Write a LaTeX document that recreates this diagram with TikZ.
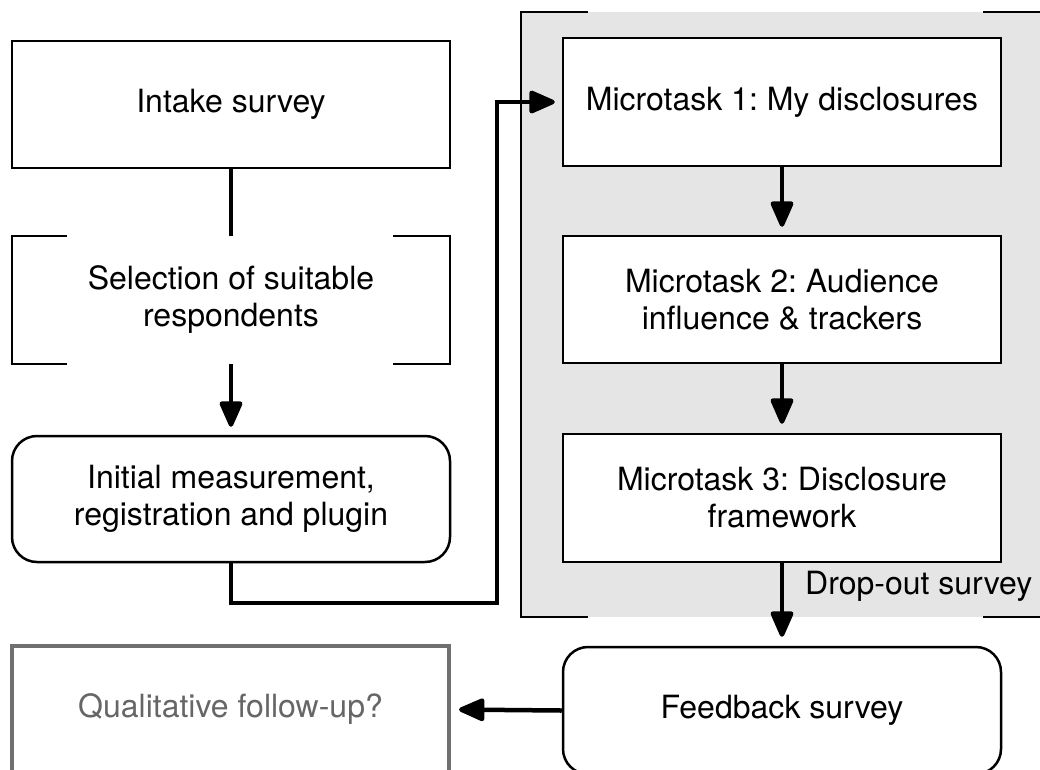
\documentclass[tikz,border=0pt]{standalone}
\usepackage{fontspec}
\setmainfont{TeX Gyre Heros}
\usetikzlibrary{arrows.meta}
\definecolor{panelgray}{HTML}{E5E5E5}
\definecolor{qualgray}{HTML}{707070}
\definecolor{qualtext}{HTML}{666666}
\frenchspacing
\begin{document}
\begin{tikzpicture}[x=1pt,y=-1pt,
  font=\fontsize{32}{37}\selectfont,
  box/.style={draw, line width=2.5pt, minimum width=438pt, minimum height=127pt, inner sep=0pt, align=center, fill=white},
  rbox/.style={box, rounded corners=25pt},
  plain/.style={minimum width=438pt, minimum height=128pt, inner sep=0pt, align=center},
  qbox/.style={draw=qualgray, line width=4pt, text=qualtext, minimum width=437pt, minimum height=127pt, inner sep=0pt, align=center},
  frame/.style={line width=2.5pt},
  conn/.style={line width=4.5pt, -{Triangle[length=29pt,width=24pt,round]}},
  link/.style={line width=4.5pt}]
\clip (0,0) rectangle (1040,769);
\fill[white] (0,0) rectangle (1040,769);
% panel
\fill[panelgray] (521,12) rectangle (1060,617);
\draw[frame] (588,12) -- (521,12) -- (521,617) -- (588,617);
\draw[frame] (983,12) -- (1060,12);
\draw[frame] (983,617) -- (1060,617);
% left column
\node[box] (intake) at (231,104.5) {Intake survey};
\node[plain] (sel) at (231,300) {Selection of suitable\\respondents};
\draw[frame] ([xshift=55pt]sel.north west) -- (sel.north west) -- (sel.south west) -- ([xshift=55pt]sel.south west);
\draw[frame] ([xshift=-57pt]sel.north east) -- (sel.north east) -- (sel.south east) -- ([xshift=-57pt]sel.south east);
\node[rbox, minimum height=126pt] (init) at (231,499) {Initial measurement,\\registration and plugin};
\node[qbox] (qual) at (230.5,709.5) {Qualitative follow-up?};
% right column
\node[box, minimum height=128pt] (m1) at (782,102) {Microtask 1: My disclosures};
\node[box] (m2) at (782,299.5) {Microtask 2: Audience\\influence \& trackers};
\node[box, minimum height=128pt] (m3) at (782,498) {Microtask 3: Disclosure\\framework};
\node[rbox] (fb) at (782,710.5) {Feedback survey};
\node[anchor=base west, inner sep=0pt] (drop) at (805,594) {Drop-out survey};
% connectors
\coordinate (bend) at (497,603);
\draw[link] (intake.south) -- (sel.north);
\draw[conn, shorten >=8pt] (sel.south) -- (init.north);
\draw[conn, shorten >=7pt] (init.south) |- (bend) |- (m1.west);
\draw[conn, shorten >=8pt] (m1.south) -- (m2.north);
\draw[conn, shorten >=9pt] (m2.south) -- (m3.north);
\draw[conn, shorten >=9pt] (m3.south) -- (fb.north);
\draw[conn, shorten >=8pt] (fb.west) -- (qual.east);
\end{tikzpicture}
\end{document}
